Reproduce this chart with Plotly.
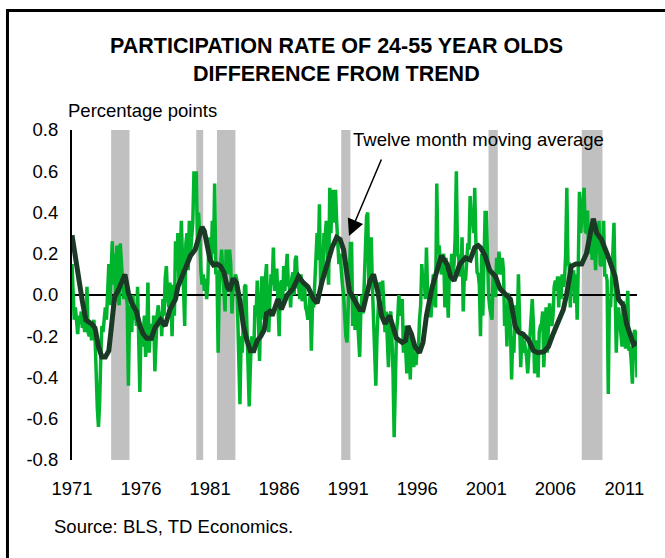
import plotly.graph_objects as go
import pandas as pd

# ---------------- data ----------------
start_month = "1971-01-01"

# Monthly participation-rate difference from trend (percentage points), Jan 1971 - Dec 2011
monthly_diff = [
    # 1971
    0.15, -0.08, -0.12, -0.06, -0.15, -0.19, -0.10, -0.14, -0.08, -0.16, -0.12, -0.18,
    # 1972
    -0.13, 0.04, -0.18, -0.20, -0.15, -0.22, -0.16, -0.12, -0.20, -0.40, -0.55, -0.64,
    # 1973
    -0.52, -0.30, -0.15, -0.18, -0.10, -0.06, -0.12, 0.02, 0.15, -0.05, 0.10, 0.26,
    # 1974
    0.05, 0.20, -0.03, 0.24, 0.02, -0.05, 0.25, 0.10, 0.06, -0.02, 0.04, 0.02,
    # 1975
    -0.05, -0.44, -0.10, -0.05, -0.18, 0.00, -0.12, -0.08, -0.15, 0.04, -0.20, -0.47,
    # 1976
    -0.15, -0.25, -0.18, -0.10, -0.30, -0.22, 0.06, -0.28, -0.18, -0.14, -0.22, -0.10,
    # 1977
    -0.37, -0.18, -0.10, -0.05, -0.15, -0.08, -0.20, -0.02, -0.10, 0.08, 0.14, 0.00,
    # 1978
    -0.06, 0.06, -0.02, -0.20, 0.05, -0.10, 0.26, 0.12, 0.30, 0.05, 0.15, 0.36,
    # 1979
    0.18, 0.05, -0.15, 0.25, 0.30, 0.12, 0.36, 0.20, 0.28, 0.35, 0.60, 0.45,
    # 1980
    0.60, 0.25, 0.40, 0.30, 0.12, 0.05, 0.10, 0.02, 0.08, -0.02, 0.05, 0.28,
    # 1981
    0.15, 0.18, 0.36, 0.20, 0.54, 0.10, 0.12, -0.28, 0.05, 0.14, 0.22, 0.12,
    # 1982
    0.00, -0.08, 0.22, 0.10, 0.15, 0.22, 0.15, -0.09, 0.05, 0.02, 0.10, 0.08,
    # 1983
    -0.10, -0.38, -0.53, -0.20, -0.28, -0.12, 0.04, 0.05, -0.20, -0.30, -0.54, -0.35,
    # 1984
    -0.20, -0.25, -0.28, -0.05, -0.10, 0.07, -0.15, -0.32, -0.05, 0.09, -0.02, -0.12,
    # 1985
    0.08, 0.15, -0.10, -0.18, -0.02, 0.10, 0.05, 0.23, 0.02, 0.12, 0.12, -0.10,
    # 1986
    -0.20, 0.05, 0.07, -0.05, 0.14, 0.02, 0.12, 0.20, 0.05, 0.04, -0.06, 0.08,
    # 1987
    0.11, 0.00, 0.17, 0.19, 0.04, 0.04, -0.02, 0.10, -0.03, 0.02, 0.06, -0.06,
    # 1988
    -0.08, -0.12, -0.05, 0.00, -0.27, -0.05, -0.06, 0.07, 0.12, 0.30, 0.17, 0.44,
    # 1989
    0.05, 0.15, 0.10, 0.30, 0.28, 0.36, 0.15, 0.05, 0.52, 0.30, 0.45, 0.51,
    # 1990
    0.35, 0.51, 0.36, 0.24, 0.15, 0.20, 0.10, 0.05, 0.00, -0.15, -0.20, -0.23,
    # 1991
    -0.05, 0.08, 0.25, 0.25, -0.15, 0.00, -0.17, 0.00, -0.10, -0.20, -0.30, -0.08,
    # 1992
    0.00, -0.09, 0.10, 0.20, 0.38, 0.40, 0.05, 0.14, 0.28, 0.05, -0.15, -0.25,
    # 1993
    -0.44, -0.20, -0.05, 0.05, 0.06, 0.00, 0.07, -0.10, -0.18, -0.08, -0.20, -0.35,
    # 1994
    -0.10, -0.08, -0.20, -0.38, -0.69, -0.30, -0.18, -0.12, 0.00, -0.06, -0.10, -0.02,
    # 1995
    -0.28, -0.15, -0.30, -0.38, -0.20, -0.25, -0.41, -0.18, -0.22, -0.35, -0.28, -0.34,
    # 1996
    -0.25, -0.26, -0.12, -0.05, 0.15, 0.04, 0.10, -0.02, 0.23, 0.01, 0.00, -0.10,
    # 1997
    -0.10, 0.07, 0.10, -0.02, -0.06, 0.54, 0.20, 0.24, 0.17, 0.10, 0.14, 0.20,
    # 1998
    -0.06, 0.18, 0.05, -0.11, 0.12, 0.08, 0.20, 0.10, 0.15, 0.28, 0.60, 0.20,
    # 1999
    0.18, 0.09, 0.12, 0.28, -0.08, 0.10, 0.07, 0.16, 0.25, 0.22, 0.48, 0.35,
    # 2000
    0.38, 0.30, 0.52, 0.25, 0.11, 0.10, 0.05, -0.20, 0.20, -0.10, 0.30, 0.40,
    # 2001
    0.40, 0.12, 0.00, -0.06, -0.10, -0.12, 0.10, 0.08, -0.01, 0.18, 0.10, 0.21,
    # 2002
    0.14, 0.10, 0.18, 0.12, -0.15, -0.05, -0.25, 0.01, -0.10, -0.15, -0.41, -0.20,
    # 2003
    -0.28, -0.05, -0.10, -0.15, 0.10, -0.20, -0.35, -0.18, -0.28, -0.22, -0.25, -0.30,
    # 2004
    -0.38, -0.28, -0.20, -0.10, -0.02, -0.15, -0.38, -0.28, -0.22, -0.40, -0.18, -0.15,
    # 2005
    -0.14, -0.08, -0.35, -0.20, -0.06, -0.28, -0.12, -0.04, -0.12, -0.15, -0.10, 0.04,
    # 2006
    0.07, 0.02, 0.09, -0.06, 0.09, -0.02, 0.10, 0.04, 0.07, 0.20, 0.52, 0.15,
    # 2007
    0.15, -0.06, 0.10, 0.02, 0.12, -0.04, 0.10, -0.12, 0.15, 0.50, 0.30, 0.36,
    # 2008
    0.45, 0.52, 0.31, 0.30, 0.41, 0.20, 0.28, 0.30, 0.17, 0.35, 0.24, 0.12,
    # 2009
    0.30, 0.20, 0.36, 0.15, 0.14, 0.20, 0.36, 0.09, 0.10, 0.07, -0.48, -0.02,
    # 2010
    -0.06, 0.14, 0.20, 0.35, -0.02, -0.28, -0.10, -0.06, -0.13, -0.20, -0.25, -0.03,
    # 2011
    -0.15, -0.26, -0.10, 0.02, -0.27, -0.25, -0.32, -0.43, -0.20, -0.17, -0.19, -0.40,
]

# Twelve month moving average
ma_dates = [
    "1971-01", "1971-04", "1971-07", "1971-10", "1972-01", "1972-06", "1972-09", "1972-12",
    "1973-03", "1973-06", "1973-09", "1973-11", "1974-02", "1974-05", "1974-08", "1974-11",
    "1975-02", "1975-05", "1975-09", "1975-12", "1976-03", "1976-06", "1976-10", "1977-01",
    "1977-06", "1977-10", "1978-02", "1978-07", "1978-09", "1979-02", "1979-05", "1979-08",
    "1979-12", "1980-03", "1980-06", "1980-08", "1980-10", "1981-01", "1981-04", "1981-07",
    "1981-10", "1982-01", "1982-04", "1982-06", "1982-09", "1982-12", "1983-03", "1983-06",
    "1983-09", "1983-12", "1984-03", "1984-06", "1984-09", "1984-12", "1985-02", "1985-05",
    "1985-07", "1985-12", "1986-03", "1986-08", "1987-01", "1987-06", "1987-10", "1988-02",
    "1988-07", "1988-10", "1989-02", "1989-06", "1989-11", "1990-03", "1990-06", "1990-09",
    "1990-12", "1991-02", "1991-07", "1991-11", "1992-02", "1992-08", "1992-11", "1993-03",
    "1993-06", "1993-09", "1994-01", "1994-04", "1994-07", "1994-12", "1995-03", "1995-05",
    "1995-08", "1995-11", "1996-03", "1996-06", "1996-09", "1997-02", "1997-05", "1997-08",
    "1997-10", "1998-03", "1998-06", "1998-09", "1998-11", "1999-02", "1999-07", "1999-11",
    "2000-03", "2000-06", "2000-08", "2000-12", "2001-04", "2001-09", "2002-01", "2002-05",
    "2002-10", "2003-02", "2003-05", "2003-09", "2004-02", "2004-06", "2004-10", "2005-03",
    "2005-07", "2005-11", "2006-04", "2006-08", "2006-11", "2007-03", "2007-07", "2007-12",
    "2008-04", "2008-07", "2008-10", "2009-01", "2009-05", "2009-10", "2010-02", "2010-05",
    "2010-08", "2010-12", "2011-03", "2011-06", "2011-09", "2011-12",
]
ma_values = [
    0.29, 0.18, 0.06, -0.03, -0.12, -0.14, -0.16, -0.25,
    -0.30, -0.30, -0.27, -0.15, -0.01, 0.02, 0.06, 0.10,
    0.01, -0.04, -0.08, -0.15, -0.19, -0.21, -0.21, -0.16,
    -0.12, -0.15, -0.07, -0.02, 0.04, 0.11, 0.15, 0.19,
    0.22, 0.27, 0.33, 0.31, 0.26, 0.17, 0.145, 0.15,
    0.14, 0.11, 0.04, 0.02, 0.08, 0.06, -0.03, -0.15,
    -0.22, -0.27, -0.27, -0.22, -0.20, -0.17, -0.09, -0.08,
    -0.10, -0.02, -0.07, 0.00, 0.03, 0.09, 0.06, 0.04,
    -0.02, -0.04, 0.06, 0.14, 0.23, 0.28, 0.27, 0.22,
    0.10, 0.02, -0.03, -0.07, -0.07, 0.07, 0.10, 0.01,
    -0.10, -0.14, -0.10, -0.15, -0.21, -0.23, -0.22, -0.15,
    -0.19, -0.25, -0.28, -0.23, -0.10, 0.04, 0.10, 0.17,
    0.19, 0.15, 0.09, 0.07, 0.10, 0.15, 0.18, 0.17,
    0.23, 0.24, 0.23, 0.19, 0.12, 0.09, 0.03, 0.01,
    -0.02, -0.15, -0.18, -0.19, -0.22, -0.27, -0.28, -0.275,
    -0.25, -0.19, -0.12, -0.07, 0.01, 0.14, 0.15, 0.15,
    0.20, 0.30, 0.37, 0.30, 0.27, 0.20, 0.14, 0.09,
    -0.02, -0.05, -0.14, -0.19, -0.24, -0.23,
]

# NBER recessions (shaded)
recession_starts = ["1973-11-01", "1980-01-01", "1981-07-01", "1990-07-01", "2001-03-01", "2007-12-01"]
recession_ends = ["1975-03-01", "1980-07-01", "1982-11-01", "1991-03-01", "2001-11-01", "2009-06-01"]

tick_years = ["1971", "1976", "1981", "1986", "1991", "1996", "2001", "2006", "2011"]
y_ticks = [-0.8, -0.6, -0.4, -0.2, 0.0, 0.2, 0.4, 0.6, 0.8]
y_tick_labels = ["-0.8", "-0.6", "-0.4", "-0.2", "0.0", "0.2", "0.4", "0.6", "0.8"]

# ---------------- figure ----------------
months = pd.date_range(start_month, periods=len(monthly_diff), freq="MS")
FONT = "Liberation Sans, Arial, sans-serif"

fig = go.Figure()
fig.add_trace(go.Scatter(
    x=months, y=monthly_diff, mode="lines",
    line=dict(color="#00B42D", width=3.5), hoverinfo="skip", showlegend=False,
))
fig.add_trace(go.Scatter(
    x=[d + "-01" for d in ma_dates], y=ma_values, mode="lines",
    line=dict(color="#1B3A26", width=5), hoverinfo="skip", showlegend=False,
))

shapes = []
for s, e in zip(recession_starts, recession_ends):
    shapes.append(dict(type="rect", xref="x", yref="y", x0=s, x1=e, y0=-0.8, y1=0.8,
                       fillcolor="#C0C0C0", line=dict(width=0), layer="below"))
# white background behind the annotation text
shapes.append(dict(type="rect", xref="paper", yref="paper", x0=0.47, x1=0.955, y0=0.918, y1=1.02,
                   fillcolor="white", line=dict(width=0), layer="below"))
# frame lines (left and top)
shapes.append(dict(type="line", xref="paper", yref="paper", x0=-0.1142, x1=-0.1142, y0=-0.32, y1=1.366,
                   line=dict(color="black", width=3)))
shapes.append(dict(type="line", xref="paper", yref="paper", x0=-0.1168, x1=1.06, y0=1.362, y1=1.362,
                   line=dict(color="black", width=3)))

TXT = 18.5
annotations = [
    dict(text="<b>PARTICIPATION RATE OF 24-55 YEAR OLDS</b>", x=0.469, y=1.2545, xref="paper", yref="paper",
         showarrow=False, xanchor="center", yanchor="middle", font=dict(size=21.5, color="black", family=FONT)),
    dict(text="<b>DIFFERENCE FROM TREND</b>", x=0.469, y=1.1697, xref="paper", yref="paper",
         showarrow=False, xanchor="center", yanchor="middle", font=dict(size=21.5, color="black", family=FONT)),
    dict(text="Percentage points", x=-0.0106, y=1.0576, xref="paper", yref="paper",
         showarrow=False, xanchor="left", yanchor="middle", font=dict(size=TXT, color="black", family=FONT)),
    dict(text="Twelve month moving average", x=0.7186, y=0.9697, xref="paper", yref="paper",
         showarrow=False, xanchor="center", yanchor="middle", font=dict(size=TXT, color="black", family=FONT)),
    dict(text="", x=0.4903, y=0.6788, xref="paper", yref="paper", showarrow=True,
         ax=33, ay=-78, arrowhead=2, arrowsize=2.2, arrowwidth=1.5, arrowcolor="black"),
    dict(text="Source: BLS, TD Economics.", x=-0.0354, y=-0.203, xref="paper", yref="paper",
         showarrow=False, xanchor="left", yanchor="middle", font=dict(size=TXT, color="black", family=FONT)),
]

fig.update_layout(
    width=665, height=558,
    margin=dict(l=72, r=28, t=130, b=98),
    paper_bgcolor="white", plot_bgcolor="white",
    font=dict(family=FONT, size=TXT, color="black"),
    shapes=shapes, annotations=annotations,
    xaxis=dict(
        type="date", range=["1971-01-01", "2011-12-01"],
        tickvals=[y + "-01-01" for y in tick_years], ticktext=tick_years,
        showgrid=False, zeroline=False, showline=False, ticks="",
        ticklabelstandoff=15, tickfont=dict(size=TXT, family=FONT, color="black"),
    ),
    yaxis=dict(
        range=[-0.8, 0.8], tickvals=y_ticks, ticktext=y_tick_labels,
        showgrid=False, zeroline=True, zerolinecolor="black", zerolinewidth=2,
        showline=True, linecolor="black", linewidth=2, ticks="",
        ticklabelstandoff=8, tickfont=dict(size=TXT, family=FONT, color="black"),
    ),
)

fig.write_html("out.html", config={"displayModeBar": False},
               post_script="document.body.style.margin='0px';")
